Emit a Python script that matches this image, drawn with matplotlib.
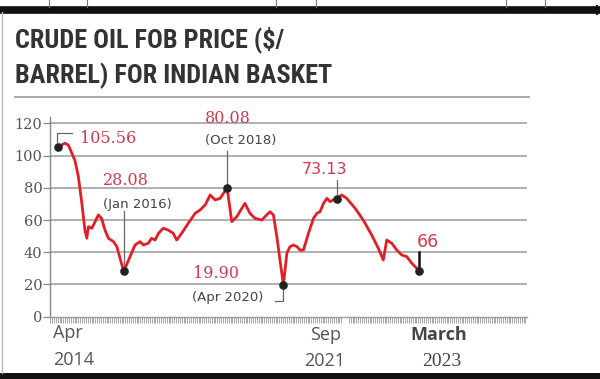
import matplotlib
matplotlib.use("Agg")
import matplotlib.pyplot as plt
from matplotlib.lines import Line2D
from matplotlib import font_manager
import numpy as np

# ---- data (month offset from Apr 2014, $/barrel) ----
months = [0, 2.2, 3.3, 5.4, 6.5, 7.6, 8.6, 9.2, 9.7, 10.8, 12.9, 13.9, 15, 16.1, 17.7,
          18.8, 19.8, 21, 23, 24.6, 26.2, 27.3, 28.8, 29.9, 31, 32.1, 33.6, 35.2, 36.8, 37.9,
          39.5, 41.6, 43.8, 45.4, 47, 48.6, 50.2, 51.8, 54, 55.5, 57.1, 59.7, 61.3, 62.9, 65.1,
          66.1, 67.7, 68.8, 69.9, 70.9, 72, 73.1, 74.1, 75.2, 76.3, 77.3, 78.4, 80, 81.6, 82.7,
          83.7, 84.8, 85.9, 86.9, 87.9, 89, 90.6, 92.2, 94.9, 97.5, 100.2, 102.3, 103.9, 105,
          106.6, 108.2, 109.8, 111.4, 113, 115.3]
prices = [105.56, 107.7, 106.6, 97, 87, 70.6, 53.8, 48.7, 55.9, 54.9, 63.2, 61.1, 53.8, 48.7, 46.6,
          43.5, 36.3, 28.08, 37.3, 44.5, 46.6, 44.5, 45.6, 48.7, 47.6, 51.8, 54.9, 53.8, 51.8, 47.6,
          51.8, 58, 64.2, 66.3, 69.4, 75.6, 72.5, 73.5, 80.08, 59, 62.1, 70.4, 64.2, 61.1, 60,
          62.1, 65.2, 63.2, 49.7, 35.2, 19.9, 39.4, 43.5, 44.5, 43.5, 41.4, 41.4, 51.8, 61.1, 64.2,
          65.2, 70.4, 73.5, 71.4, 72.5, 73.13, 75.6, 73.5, 67.3, 60, 50.7, 42.5, 35.2, 47.6,
          45.6, 41.4, 38.3, 37.3, 33.2, 28.6]

key_months = [0, 21, 54, 72, 89, 115.3]
key_values = [105.56, 28.08, 80.08, 19.9, 73.13, 28.6]
key_labels = ["105.56", "28.08", "80.08", "19.90", "73.13", "66"]
key_dates = ["", "(Jan 2016)", "(Oct 2018)", "(Apr 2020)", "", ""]

y_ticks = [0, 20, 40, 60, 80, 100, 120]
title_lines = ["CRUDE OIL FOB PRICE ($/", "BARREL) FOR INDIAN BASKET"]

W, H = 600, 379
fig = plt.figure(figsize=(W / 100, H / 100), dpi=100)
fig.patch.set_facecolor("white")

def fx(px):
    return px / W

def fy(py):
    return 1 - py / H

# axes geometry
ax = fig.add_axes([fx(50), fy(316.7), fx(527) - fx(50), (316.7 - 117) / H])
ax.set_xlim(-2.56, 149.8)
ax.set_ylim(0, 124)

RED = "#e41e26"
LBL_RED = "#cf3b4c"
GRID = "#9a9a9a"

for s in ["top", "right"]:
    ax.spines[s].set_visible(False)
ax.spines["left"].set_color("#888888")
ax.spines["left"].set_linewidth(1.0)
ax.spines["bottom"].set_color(GRID)
ax.spines["bottom"].set_linewidth(1.0)

for v in y_ticks[1:]:
    ax.axhline(v, color=GRID, lw=1.1, zorder=1)

ax.set_yticks(y_ticks)
ax.set_yticklabels([str(v) for v in y_ticks], family="DejaVu Serif", fontsize=10.5, color="#555555")
ax.tick_params(axis="y", length=5, width=0.9, color="#888888", pad=0.5)

# dense monthly ticks along the x axis (with a small break)
minor = np.arange(-2.5, 149.8, 0.6)
minor = minor[(minor < 91.0) | (minor > 92.4)]
ax.set_xticks(minor, minor=True)
ax.set_xticks([])
ax.tick_params(axis="x", which="minor", length=4.5, width=0.6, color="#999999", direction="out")

# main line
ax.plot(months, prices, color=RED, lw=2.0, solid_joinstyle="round", solid_capstyle="round", zorder=3)
ax.plot(key_months, key_values, "o", color="#222222", ms=5.2, zorder=4)

LEAD = "#666666"
def seg(xs, ys, color=LEAD, lw=0.9):
    ax.plot(xs, ys, color=color, lw=lw, clip_on=False, zorder=2)

serif_kw = dict(family="DejaVu Serif", fontsize=11.5, color=LBL_RED, va="center", ha="left", clip_on=False)
date_kw = dict(family="DejaVu Sans", fontsize=9.5, color="#444444", va="center", ha="left", clip_on=False)

# 105.56
ax.text(7.0, 110.4, key_labels[0], **serif_kw)
seg([-0.3, -0.3, 4.4], [108.3, 113.9, 113.9])
# 28.08 (Jan 2016)
ax.text(14.4, 84.5, key_labels[1], **serif_kw)
ax.text(14.4, 69.4, key_dates[1], **date_kw)
seg([21, 21], [31, 65.5])
# 80.08 (Oct 2018)
ax.text(47.0, 123.2, key_labels[2], **serif_kw)
ax.text(47.0, 109.3, key_dates[2], **date_kw)
seg([54, 54], [82.5, 103])
# 19.90 (Apr 2020)
ax.text(43.1, 27.0, key_labels[3], **serif_kw)
ax.text(42.8, 12.0, key_dates[3], **date_kw)
seg([69.3, 72, 72], [9.5, 9.5, 17.5])
# 73.13
ax.text(78.0, 91.1, key_labels[4], family="DejaVu Sans", fontsize=11.5, color=LBL_RED,
        va="center", ha="left", clip_on=False)
seg([89, 89], [76, 85])
# 66
ax.text(114.6, 46.6, key_labels[5], family="DejaVu Sans", fontsize=12.5, color=LBL_RED,
        va="center", ha="left", clip_on=False)
seg([115.3, 115.3], [29.5, 40], color="#111111", lw=1.8)

# x labels
xl_kw = dict(family="Open Sans", fontsize=13, color="#555555", va="center", clip_on=False)
ax.text(-1.6, -10.4, "Apr", ha="left", **xl_kw)
ax.text(-1.6, -26.9, "2014", ha="left", **xl_kw)
ax.text(90.4, -11.4, "Sep", ha="right", **xl_kw)
ax.text(91.7, -27.8, "2021", ha="right", **xl_kw)
ax.text(121.7, -11.4, "March", ha="center", family="Open Sans", fontsize=13, weight="bold",
        color="#444444", va="center", clip_on=False)
ax.text(122.5, -27.8, "2023", ha="center", family="Liberation Serif", fontsize=14,
        color="#444444", va="center", clip_on=False)

# title: pick the narrowest bold family available, fit to the reference width
title_family = "DejaVu Sans"
for cand in ["Roboto Condensed", "Liberation Sans Narrow", "Open Sans Condensed",
             "DejaVu Sans Condensed", "Roboto"]:
    try:
        font_manager.findfont(font_manager.FontProperties(family=cand, weight="bold"),
                              fallback_to_default=False)
        title_family = cand
        break
    except Exception:
        continue

title_kw = dict(family=title_family, weight="bold", fontsize=20,
                color="#333333", ha="left", va="baseline")
t1 = fig.text(fx(15), fy(47), title_lines[0], **title_kw)
t2 = fig.text(fx(15), fy(83), title_lines[1], **title_kw)
renderer = fig.canvas.get_renderer()
w2 = t2.get_window_extent(renderer).width
size = 20 * 318.0 / w2
size = min(size, 21.5)
t1.set_fontsize(size)
t2.set_fontsize(size)

# page decorations
def fline(x0, y0, x1, y1, color, lw):
    fig.add_artist(Line2D([fx(x0), fx(x1)], [fy(y0), fy(y1)], color=color, lw=lw,
                          transform=fig.transFigure))

fline(15, 97, 529, 97, "#999999", 1.2)
fline(0, 9.5, 597, 9.5, "#111111", 5.5)
fline(0, 376, 600, 376, "#111111", 5.0)
fline(1.5, 12, 1.5, 373, "#bbbbbb", 1.0)
for xv in [49, 87, 276, 316, 506, 545]:
    fline(xv, 0, xv, 6.5, "#777777", 0.8)
fline(597, 6, 597, 14, "#111111", 1.5)

fig.savefig("out.png", dpi=100, facecolor="white")
